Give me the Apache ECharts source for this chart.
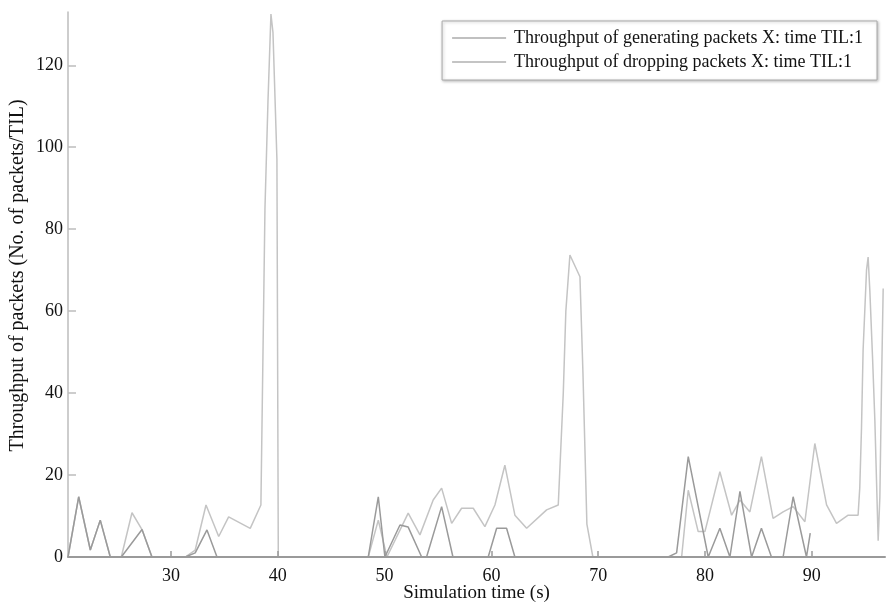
<!DOCTYPE html>
<html>
<head>
<meta charset="utf-8">
<script src="https://cdn.jsdelivr.net/npm/echarts@6/dist/echarts.min.js"></script>
<style>
html,body{margin:0;padding:0;background:#fff;}
#chart{width:893px;height:604px;}
</style>
</head>
<body>
<div id="chart"></div>
<script>
var seriesNames = ['Throughput of generating packets X: time TIL:1', 'Throughput of dropping packets X: time TIL:1'];
var xTicks = [30, 40, 50, 60, 70, 80, 90];
var yTicks = [0, 20, 40, 60, 80, 100, 120];

var genTime = [20.36, 21.36, 22.45, 23.38, 24.32, 25.35, 26.35, 27.29, 28.22, 31.34, 32.27, 33.28, 34.47, 35.40, 37.42, 38.42, 38.80, 39.08, 39.36, 39.55, 39.92, 40.05,
  48.47, 49.41, 50.22, 52.21, 53.31, 54.55, 55.34, 56.28, 57.21, 58.30, 59.39, 60.33, 61.26, 62.20, 63.30, 65.17, 66.26, 66.73, 66.97, 67.35, 68.29, 68.57, 68.94, 69.50,
  77.81, 78.43, 79.36, 79.99, 81.39, 82.49, 83.27, 84.20, 85.28, 86.37, 87.31, 88.25, 89.35, 90.28, 91.38, 92.31, 93.40, 94.33, 94.49, 94.65, 94.80, 95.12, 95.27, 95.43, 95.68, 95.90, 96.21, 96.37, 96.53, 96.68];
var genValue = [0, 14.7, 1.7, 9, 0, 0, 10.8, 6.7, 0, 0, 1.7, 12.7, 5, 9.8, 7, 12.7, 85, 111, 132.5, 128, 97, 0,
  0, 9, 0, 10.7, 5.4, 13.9, 16.8, 8.2, 11.9, 11.9, 7.4, 12.7, 22.4, 10.2, 7, 11.5, 12.7, 40, 60, 73.7, 68.4, 45, 8, 0,
  0, 16.3, 6.2, 6.2, 20.8, 10.2, 13.9, 11, 24.5, 9.4, 11, 12.3, 8.6, 27.7, 12.7, 8.2, 10.2, 10.2, 17, 31.5, 50.5, 70, 73.2, 65, 49, 33.4, 4, 14.7, 43, 65.5];

var dropTime = [20.36, 21.36, 22.45, 23.38, 24.32, 25.35, 27.29, 28.22, 31.34, 32.27, 33.37, 34.31,
  48.47, 49.41, 50.03, 51.44, 52.21, 53.47, 53.93, 55.34, 56.40, 59.70, 60.49, 61.42, 62.20,
  76.55, 77.34, 78.43, 80.30, 81.39, 82.33, 83.27, 84.36, 85.28, 86.22, 87.31, 88.25, 89.50, 89.85];
var dropValue = [0, 14.7, 1.7, 9, 0, 0, 6.7, 0, 0, 1, 6.6, 0,
  0, 14.7, 0, 7.8, 7.3, 0, 0, 12.3, 0, 0, 7, 7, 0,
  0, 1, 24.5, 0, 7, 0, 16, 0, 7, 0, 0, 14.7, 0, 5.8];

function zip(a, b) { return a.map(function (v, i) { return [v, b[i]]; }); }

var FONT = 'Liberation Serif';
var chart = echarts.init(document.getElementById('chart'), null, { renderer: 'canvas' });
chart.setOption({
  animation: false,
  backgroundColor: '#ffffff',
  grid: { left: 68, right: 8, top: 12, bottom: 47, containLabel: false, outerBoundsMode: 'none' },
  legend: {
    orient: 'vertical',
    right: 16,
    top: 21,
    icon: 'rect',
    itemWidth: 54,
    itemHeight: 2,
    itemGap: 6,
    padding: [8, 14, 9, 10],
    borderColor: '#aaaaaa',
    borderWidth: 1,
    shadowColor: 'rgba(0,0,0,0.25)',
    shadowBlur: 3,
    shadowOffsetX: 1,
    shadowOffsetY: 1,
    backgroundColor: '#ffffff',
    textStyle: { fontFamily: FONT, fontSize: 18, color: '#111', padding: [0, 0, 0, 3] },
    data: [
      { name: seriesNames[0], itemStyle: { color: '#c0c0c0' } },
      { name: seriesNames[1], itemStyle: { color: '#c4c4c4' } }
    ]
  },
  xAxis: {
    type: 'value',
    min: 20.36,
    max: 96.85,
    z: 5,
    name: 'Simulation time (s)',
    nameLocation: 'middle',
    nameGap: 27,
    nameMoveOverlap: false,
    nameTextStyle: { fontFamily: FONT, fontSize: 19, color: '#111' },
    axisLine: { show: true, lineStyle: { color: '#9a9a9a', width: 2 } },
    axisTick: { show: true, inside: true, length: 6, customValues: xTicks, lineStyle: { color: '#9a9a9a', width: 1.5 } },
    axisLabel: { customValues: xTicks, margin: 10, fontFamily: FONT, fontSize: 18, color: '#111' },
    splitLine: { show: false }
  },
  yAxis: {
    type: 'value',
    min: 0,
    max: 133,
    name: 'Throughput of packets (No. of packets/TIL)',
    nameLocation: 'middle',
    nameGap: 40,
    nameMoveOverlap: false,
    nameTextStyle: { fontFamily: FONT, fontSize: 20, color: '#111', padding: [0, 0, 0, 18] },
    axisLine: { show: true, lineStyle: { color: '#bdbdbd', width: 1.5 } },
    axisTick: { show: true, inside: true, length: 8, customValues: yTicks, lineStyle: { color: '#bdbdbd', width: 1.5 } },
    axisLabel: { customValues: yTicks, margin: 5, fontFamily: FONT, fontSize: 18, color: '#111' },
    splitLine: { show: false }
  },
  series: [
    {
      name: seriesNames[0],
      type: 'line',
      symbol: 'none',
      z: 2,
      color: '#c4c4c4',
      lineStyle: { color: '#c4c4c4', width: 1.5 },
      data: zip(genTime, genValue)
    },
    {
      name: seriesNames[1],
      type: 'line',
      symbol: 'none',
      z: 3,
      color: '#9a9a9a',
      lineStyle: { color: '#9a9a9a', width: 1.5 },
      data: zip(dropTime, dropValue)
    }
  ]
});
</script>
</body>
</html>
